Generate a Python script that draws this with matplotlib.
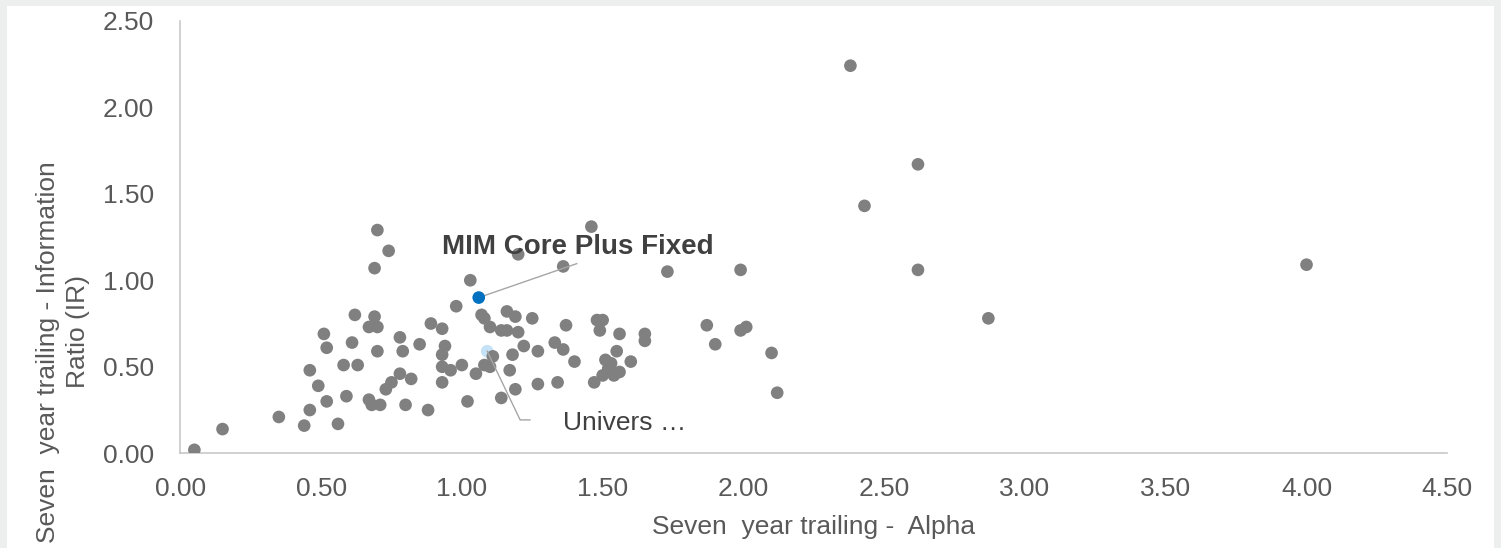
import matplotlib
matplotlib.use('Agg')
import matplotlib.pyplot as plt
from matplotlib.patches import Rectangle

plt.rcParams['font.family'] = ['Liberation Sans', 'DejaVu Sans']

# seven year trailing alpha / information ratio, peer universe
alpha = [0.70, 0.74, 0.69, 0.62, 0.69, 0.67, 0.70, 0.89, 0.51, 0.52,
         0.61, 0.78, 0.70, 0.79, 0.85, 0.58, 0.63, 0.46, 0.78, 0.82,
         0.75, 0.49, 0.73, 0.59, 0.52, 0.67, 0.68, 0.71, 0.80, 0.88,
         0.46, 0.35, 0.44, 0.56, 0.15, 0.05,
         1.46, 1.20, 1.36, 1.73, 1.03, 0.98, 1.07, 1.08, 1.16, 1.19,
         1.25, 0.93, 1.10, 1.14, 1.16, 1.20, 1.37, 1.48, 1.50, 1.49,
         1.56, 1.65, 1.65, 0.94, 0.93, 1.11, 1.18, 1.22, 1.27, 1.33,
         1.36, 1.40, 1.55, 1.51, 1.53, 1.52, 1.56, 1.50, 1.54, 1.60,
         1.47, 0.93, 0.96, 1.00, 1.05, 1.08, 1.10, 1.17, 0.93, 1.27,
         1.34, 1.19, 1.02, 1.14,
         1.99, 1.87, 1.90, 1.99, 2.01, 2.10, 2.12,
         2.38, 2.62, 2.43, 2.62, 4.00, 2.87]
info_ratio = [1.29, 1.17, 1.07, 0.80, 0.79, 0.73, 0.73, 0.75, 0.69, 0.61,
              0.64, 0.67, 0.59, 0.59, 0.63, 0.51, 0.51, 0.48, 0.46, 0.43,
              0.41, 0.39, 0.37, 0.33, 0.30, 0.31, 0.28, 0.28, 0.28, 0.25,
              0.25, 0.21, 0.16, 0.17, 0.14, 0.02,
              1.31, 1.15, 1.08, 1.05, 1.00, 0.85, 0.80, 0.78, 0.82, 0.79,
              0.78, 0.72, 0.73, 0.71, 0.71, 0.70, 0.74, 0.77, 0.77, 0.71,
              0.69, 0.69, 0.65, 0.62, 0.57, 0.56, 0.57, 0.62, 0.59, 0.64,
              0.60, 0.53, 0.59, 0.54, 0.52, 0.49, 0.47, 0.45, 0.45, 0.53,
              0.41, 0.50, 0.48, 0.51, 0.46, 0.51, 0.50, 0.48, 0.41, 0.40,
              0.41, 0.37, 0.30, 0.32,
              1.06, 0.74, 0.63, 0.71, 0.73, 0.58, 0.35,
              2.24, 1.67, 1.43, 1.06, 1.09, 0.78]

fund_name = 'MIM Core Plus Fixed'
fund_point = (1.06, 0.90)
universe_name = 'Univers …'
universe_point = (1.09, 0.59)

xticks = [0.0, 0.5, 1.0, 1.5, 2.0, 2.5, 3.0, 3.5, 4.0, 4.5]
yticks = [0.0, 0.5, 1.0, 1.5, 2.0, 2.5]

W, H = 1501, 548
fig = plt.figure(figsize=(W / 100, H / 100), dpi=100, facecolor='#EDEEEE')
fig.patches.append(Rectangle((7 / W, 0), (1494 - 7) / W, 1 - 6 / H,
                             transform=fig.transFigure, facecolor='white',
                             edgecolor='none', zorder=-1))
ax = fig.add_axes([180.3 / W, 1 - 453.3 / H, (1447.3 - 180.3) / W, (453.3 - 20.7) / H])
ax.set_zorder(1)
ax.set_facecolor('none')

ax.scatter([universe_point[0]], [universe_point[1]], s=83, color='#C5E2F6',
           edgecolors='none', zorder=2)
ax.scatter(alpha, info_ratio, s=83, color='#808080', edgecolors='none', zorder=3)
ax.scatter([fund_point[0]], [fund_point[1]], s=83, color='#0070C0',
           edgecolors='none', zorder=4)

# leader lines + data labels
ax.plot([fund_point[0], 1.408], [fund_point[1], 1.096], color='#A6A6A6', lw=1.0, zorder=3.5)
ax.text(0.929, 1.150, fund_name, fontsize=20, fontweight='bold', color='#404040',
        ha='left', va='baseline', zorder=5)
ax.plot([universe_point[0], 1.207, 1.242], [universe_point[1], 0.193, 0.193],
        color='#A6A6A6', lw=1.0, zorder=3.5)
ax.text(1.361, 0.135, universe_name, fontsize=19, color='#404040',
        ha='left', va='baseline', zorder=5)

ax.set_xlim(0, 4.5)
ax.set_ylim(0, 2.5)
ax.set_xticks(xticks)
ax.set_yticks(yticks)
ax.set_xticklabels(['%.2f' % v for v in xticks])
ax.set_yticklabels(['%.2f' % v for v in yticks])
ax.tick_params(length=0, labelsize=19, colors='#595959')
ax.tick_params(axis='x', pad=17)
ax.tick_params(axis='y', pad=19)
for side in ['top', 'right']:
    ax.spines[side].set_visible(False)
for side in ['left', 'bottom']:
    ax.spines[side].set_color('#C8C8C8')
    ax.spines[side].set_linewidth(1.2)

fig.text(813.8 / W, 1 - 527 / H, 'Seven  year trailing -  Alpha', fontsize=19,
         color='#595959', ha='center', va='center')
fig.text(48 / W, 1 - 352 / H, 'Seven  year trailing - Information', fontsize=19,
         color='#595959', ha='center', va='center', rotation=90)
fig.text(78 / W, 1 - 331 / H, 'Ratio (IR)', fontsize=19,
         color='#595959', ha='center', va='center', rotation=90)

fig.savefig('out.png', dpi=100, facecolor=fig.get_facecolor())
